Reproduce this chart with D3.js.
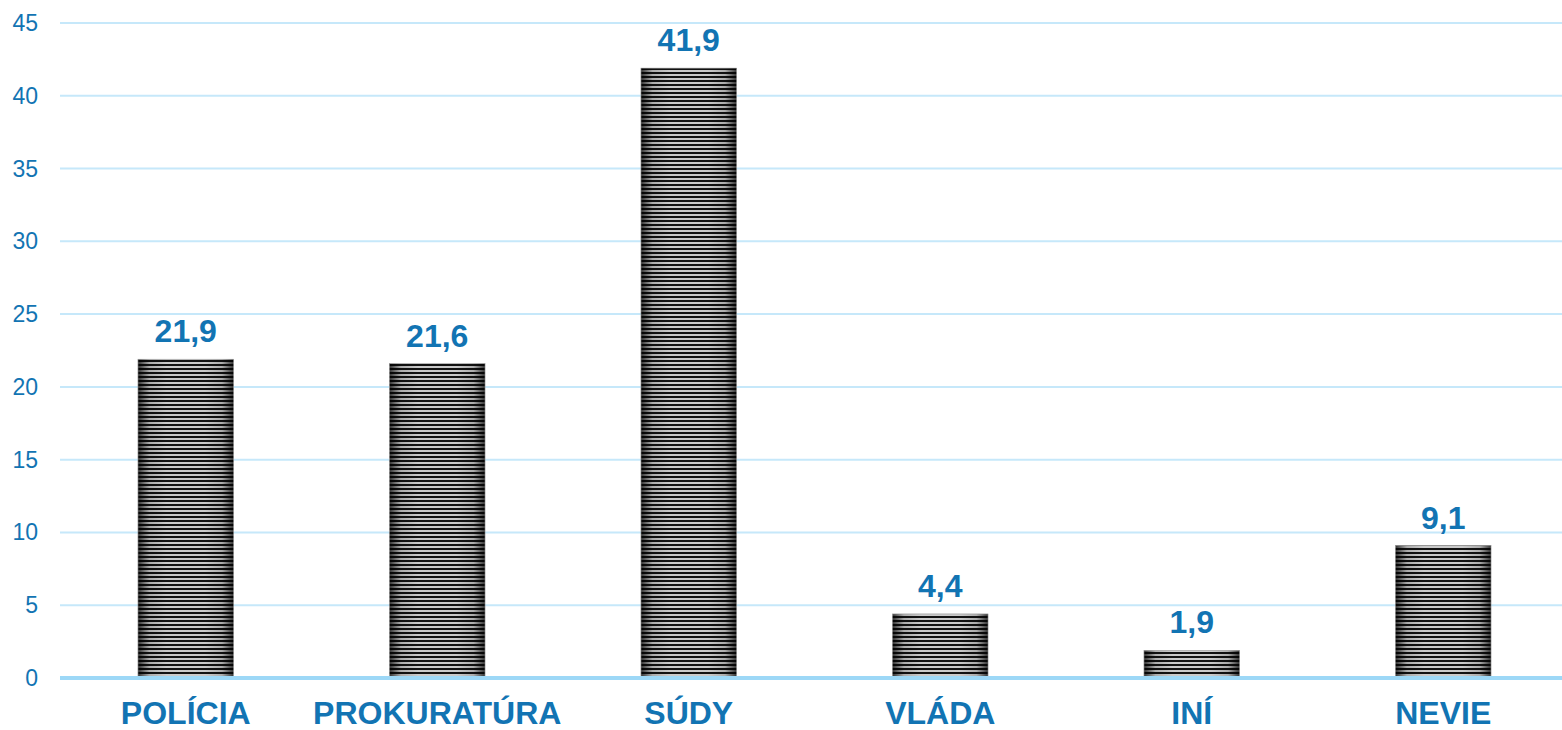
<!DOCTYPE html>
<html>
<head>
<meta charset="utf-8">
<script src="https://cdn.jsdelivr.net/npm/d3@7"></script>
<style>
  html, body { margin: 0; padding: 0; background: #fff; }
  svg { display: block; }
  text { font-family: "Liberation Sans", Arial, sans-serif; }
</style>
</head>
<body>
<svg id="chart" width="1562" height="730"></svg>
<script>
// --- data -------------------------------------------------------
const categories = ["POLÍCIA", "PROKURATÚRA", "SÚDY", "VLÁDA", "INÍ", "NEVIE"];
const values = [21.9, 21.6, 41.9, 4.4, 1.9, 9.1];
const yTicks = [0, 5, 10, 15, 20, 25, 30, 35, 40, 45];

const blue = "#1274b3";
const svg = d3.select("#chart");

const x = d3.scaleBand().domain(categories).range([60, 1569]).paddingInner(0.62).paddingOuter(0.31);
const y = d3.scaleLinear().domain([0, 45]).range([678, 23]);

// --- defs: striped fill + side shading ---------------------------
const defs = svg.append("defs");
const pat = defs.append("pattern")
    .attr("id", "stripes")
    .attr("patternUnits", "userSpaceOnUse")
    .attr("width", 8).attr("height", 4);
pat.append("rect").attr("width", 8).attr("height", 4).attr("fill", "#cacaca");
pat.append("rect").attr("width", 8).attr("height", 2).attr("fill", "#121212");

const shade = defs.append("linearGradient").attr("id", "shade")
    .attr("x1", 0).attr("x2", 1).attr("y1", 0).attr("y2", 0);
[[0, 0.75], [0.12, 0.15], [0.3, 0], [0.7, 0], [0.88, 0.15], [1, 0.75]].forEach(([o, a]) => {
    shade.append("stop").attr("offset", o).attr("stop-color", "#000").attr("stop-opacity", a);
});

// --- grid ---------------------------------------------------------
svg.append("g")
    .selectAll("line")
    .data(yTicks.filter(d => d > 0))
    .enter().append("line")
    .attr("x1", 60).attr("x2", 1562)
    .attr("y1", d => y(d)).attr("y2", d => y(d))
    .attr("stroke", "#c6e8fa").attr("stroke-width", 2);

// y tick labels
svg.append("g")
    .selectAll("text")
    .data(yTicks)
    .enter().append("text")
    .attr("x", 38)
    .attr("y", d => y(d))
    .attr("dy", "0.35em")
    .attr("text-anchor", "end")
    .attr("font-size", 23)
    .attr("fill", blue)
    .text(d => d);

// --- bars ---------------------------------------------------------
const bars = svg.append("g")
    .selectAll("g")
    .data(values)
    .enter().append("g");

bars.append("rect")
    .attr("x", (d, i) => x(categories[i]))
    .attr("y", d => y(d))
    .attr("width", x.bandwidth())
    .attr("height", d => y(0) - y(d))
    .attr("fill", "url(#stripes)");

bars.append("rect")
    .attr("x", (d, i) => x(categories[i]))
    .attr("y", d => y(d))
    .attr("width", x.bandwidth())
    .attr("height", d => y(0) - y(d))
    .attr("fill", "url(#shade)")
    .attr("stroke", "#9a9a9a")
    .attr("stroke-width", 0.6);

// value labels
bars.append("text")
    .attr("x", (d, i) => x(categories[i]) + x.bandwidth() / 2)
    .attr("y", d => y(d) - 17)
    .attr("text-anchor", "middle")
    .attr("font-size", 32)
    .attr("font-weight", "bold")
    .attr("fill", blue)
    .text(d => d.toFixed(1).replace(".", ","));

// baseline
svg.append("line")
    .attr("x1", 60).attr("x2", 1562)
    .attr("y1", y(0)).attr("y2", y(0))
    .attr("stroke", "#9dd8f7").attr("stroke-width", 4);

// category labels
svg.append("g")
    .selectAll("text")
    .data(categories)
    .enter().append("text")
    .attr("x", d => x(d) + x.bandwidth() / 2)
    .attr("y", 724)
    .attr("text-anchor", "middle")
    .attr("font-size", 32)
    .attr("font-weight", "bold")
    .attr("fill", blue)
    .text(d => d);
</script>
</body>
</html>
